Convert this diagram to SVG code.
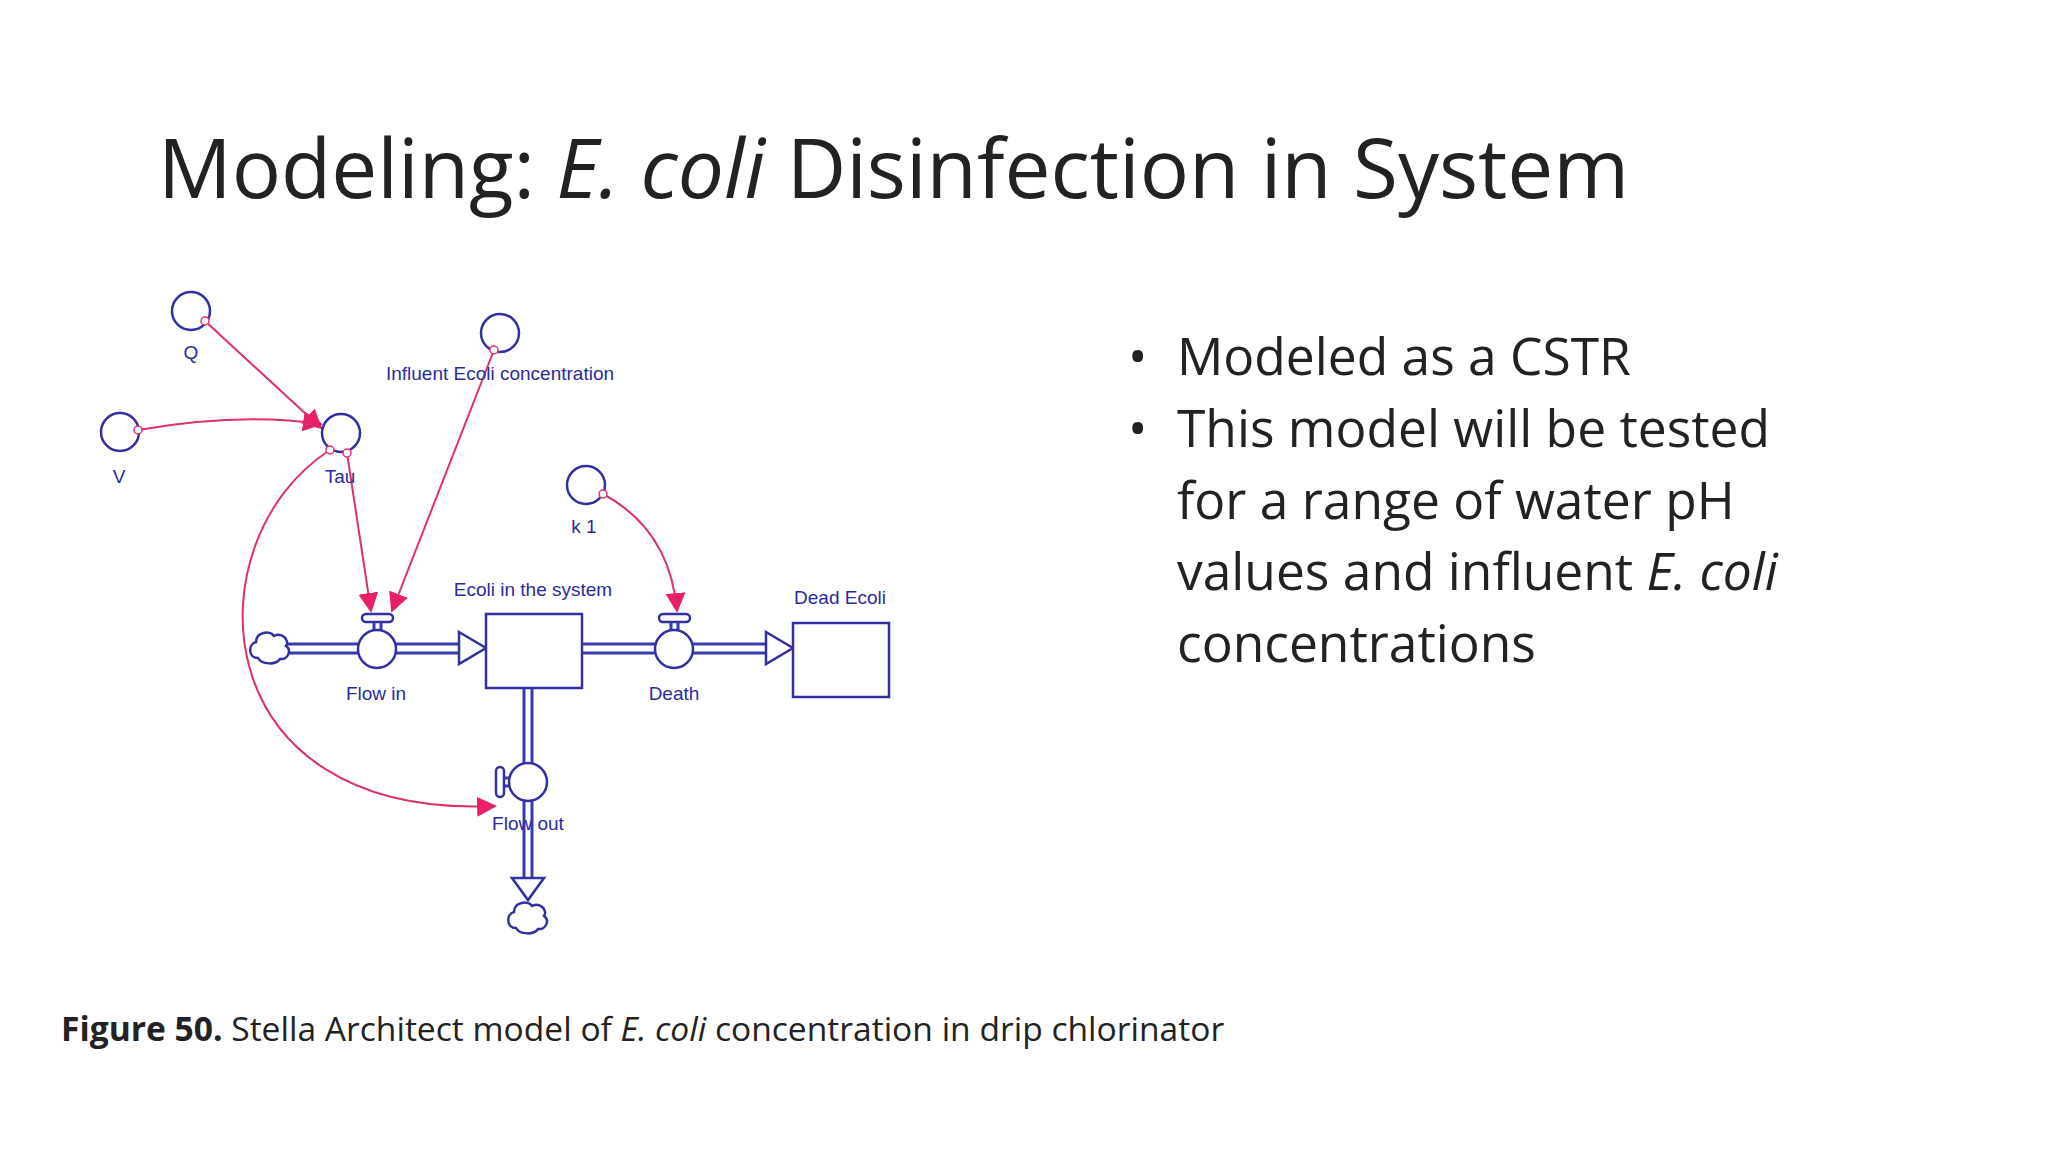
<svg xmlns="http://www.w3.org/2000/svg" width="2048" height="1152" viewBox="0 0 2048 1152">
<defs>
<style>
.t{font-family:"Open Sans","Liberation Sans",sans-serif;fill:#222}
.l{font-family:"Liberation Sans",Arial,sans-serif;font-size:19px;fill:#2b2ba0;text-anchor:middle}
.c{fill:#fff;stroke:#3030a0;stroke-width:2.5}
.p{stroke:#3a3ab0;stroke-width:3;fill:none}
.r{stroke:#e0306a;stroke-width:2;fill:none}
.h{fill:#fff;stroke:#e0306a;stroke-width:1.5}
</style>
<marker id="a2" viewBox="0 0 10 10" refX="9" refY="5" markerWidth="20" markerHeight="20" markerUnits="userSpaceOnUse" orient="auto"><path d="M0,0L10,5L0,10z" fill="#e8206a"/></marker>
</defs>
<rect width="2048" height="1152" fill="#fff"/>
<text class="t" x="158" y="198" font-size="82" font-weight="400">Modeling: <tspan font-style="italic">E. coli</tspan> Disinfection in System</text>
<g class="t" font-size="51.5">
<text x="1128" y="375">•</text><text x="1177" y="375">Modeled as a CSTR</text>
<text x="1128" y="447">•</text><text x="1177" y="447">This model will be tested</text>
<text x="1177" y="519">for a range of water pH</text>
<text x="1177" y="590">values and influent <tspan font-style="italic">E. coli</tspan></text>
<text x="1177" y="662">concentrations</text>
</g>
<text class="t" x="61" y="1041" font-size="33.6">
<tspan font-weight="bold">Figure 50.</tspan> Stella Architect model of <tspan font-style="italic">E. coli</tspan> concentration in drip chlorinator</text>
<g id="connectors">
<path class="p" d="M282,644H470M282,653H470"/><path d="M459,632L486,648L459,664Z" class="c"/>
<path class="p" d="M582,644H660M582,653H660"/>
<path class="p" d="M690,644H775M690,653H775"/><path d="M766,632L793,648L766,664Z" class="c"/>
<path class="p" d="M524,688V885M532,688V885"/><path d="M512,878L528,900L544,878Z" class="c"/>
<path class="r" d="M205,321L321,428" marker-end="url(#a2)"/>
<path class="r" d="M138,430Q240,412 321,424" marker-end="url(#a2)"/>
<path class="r" d="M347,453L371,611" marker-end="url(#a2)"/>
<path class="r" d="M494,350L392,611" marker-end="url(#a2)"/>
<path class="r" d="M603,494Q670,530 677,611" marker-end="url(#a2)"/>
<path class="r" d="M330,450C190,540 200,820 495,806" marker-end="url(#a2)"/>
</g>
<g id="Q"><circle class="c" cx="191" cy="311" r="19"/><circle class="h" cx="205" cy="321" r="4"/><text class="l" x="191" y="359">Q</text></g>
<g id="V"><circle class="c" cx="120" cy="432" r="19"/><circle class="h" cx="138" cy="430" r="4"/><text class="l" x="119" y="483">V</text></g>
<g id="Tau"><circle class="c" cx="341" cy="433" r="19"/><circle class="h" cx="330" cy="450" r="4"/><circle class="h" cx="347" cy="453" r="4"/><text class="l" x="340" y="483">Tau</text></g>
<g id="Influent"><circle class="c" cx="500" cy="333" r="19"/><circle class="h" cx="494" cy="350" r="4"/><text class="l" x="500" y="380">Influent Ecoli concentration</text></g>
<g id="k1"><circle class="c" cx="586" cy="485" r="19"/><circle class="h" cx="603" cy="494" r="4"/><text class="l" x="584" y="533">k 1</text></g>
<g id="cloudL"><path class="c" d="M258,658c-10,0-10-14-2-16c0-10 14-12 18-6c8-4 16 4 12 10c6 4 2 14-6 13c-4 6-18 6-22-1z"/></g>
<g id="cloudB"><path class="c" d="M516,928c-10,0-10-14-2-16c0-10 14-12 18-6c8-4 16 4 12 10c6 4 2 14-6 13c-4 6-18 6-22-1z"/></g>
<g id="FlowIn"><rect class="c" x="362" y="614" width="31" height="8" rx="4"/><path class="p" d="M374,622V630M381,622V630" stroke-width="2"/><circle class="c" cx="377" cy="649" r="19"/><text class="l" x="376" y="700">Flow in</text></g>
<g id="Stock"><rect class="c" x="486" y="614" width="96" height="74"/><text class="l" x="533" y="596">Ecoli in the system</text></g>
<g id="Death"><rect class="c" x="659" y="614" width="31" height="8" rx="4"/><path class="p" d="M671,622V630M678,622V630" stroke-width="2"/><circle class="c" cx="674" cy="649" r="19"/><text class="l" x="674" y="700">Death</text></g>
<g id="Dead"><rect class="c" x="793" y="623" width="96" height="74"/><text class="l" x="840" y="604">Dead Ecoli</text></g>
<g id="FlowOut"><path class="p" d="M503,778H510M503,786H510" stroke-width="2"/><rect class="c" x="496" y="767" width="8" height="30" rx="4"/><circle class="c" cx="528" cy="782" r="19"/><text class="l" x="528" y="830">Flow out</text></g>
</svg>
